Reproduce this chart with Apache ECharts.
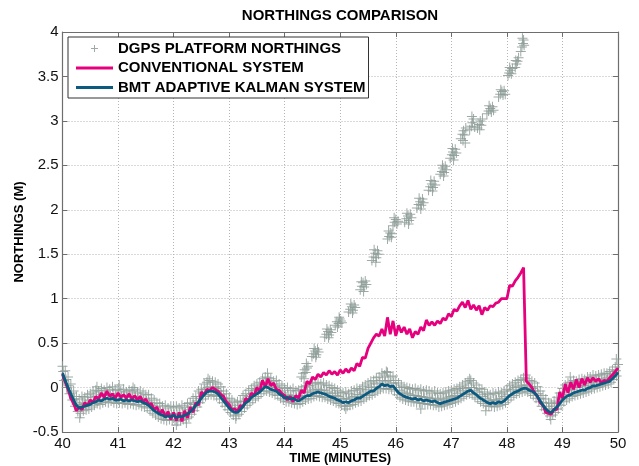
<!DOCTYPE html>
<html>
<head>
<meta charset="utf-8">
<script src="https://cdn.jsdelivr.net/npm/echarts@6/dist/echarts.min.js"></script>
<style>
html,body{margin:0;padding:0;background:#fff;}
#chart{width:639px;height:466px;}
</style>
</head>
<body>
<div id="chart"></div>
<script>
// ---------------- DATA ----------------
const chartTitle = 'NORTHINGS COMPARISON';
const xAxisName = 'TIME (MINUTES)';
const yAxisName = 'NORTHINGS (M)';
const seriesNames = ['DGPS PLATFORM NORTHINGS', 'CONVENTIONAL SYSTEM', 'BMT ADAPTIVE KALMAN SYSTEM'];

// sample grid of the two lines: 40.00 .. 50.00 every 0.05 min
const sampleStart = 40, sampleStep = 0.05;

// BMT adaptive Kalman system (blue)
const bmtValues = [
 0.16,0.08,0.00,-0.07,-0.14,-0.20,-0.23,-0.22,-0.21,-0.20,
 -0.19,-0.17,-0.16,-0.14,-0.15,-0.13,-0.12,-0.13,-0.12,-0.14,
 -0.14,-0.13,-0.15,-0.14,-0.15,-0.14,-0.15,-0.16,-0.15,-0.17,
 -0.18,-0.20,-0.23,-0.26,-0.28,-0.30,-0.31,-0.33,-0.32,-0.33,
 -0.31,-0.34,-0.32,-0.33,-0.31,-0.30,-0.27,-0.24,-0.20,-0.16,
 -0.12,-0.08,-0.05,-0.04,-0.04,-0.05,-0.07,-0.11,-0.15,-0.19,
 -0.23,-0.26,-0.28,-0.28,-0.25,-0.21,-0.17,-0.15,-0.11,-0.09,
 -0.07,-0.05,-0.02,0.01,0.00,-0.02,-0.03,-0.04,-0.07,-0.09,
 -0.12,-0.11,-0.13,-0.12,-0.14,-0.15,-0.13,-0.11,-0.09,-0.09,
 -0.07,-0.06,-0.05,-0.06,-0.07,-0.08,-0.10,-0.11,-0.12,-0.14,
 -0.15,-0.17,-0.16,-0.17,-0.15,-0.14,-0.12,-0.12,-0.10,-0.08,
 -0.06,-0.04,-0.04,-0.01,0.01,0.04,0.02,0.03,0.01,0.02,
 -0.02,-0.06,-0.08,-0.10,-0.11,-0.12,-0.13,-0.12,-0.14,-0.13,
 -0.15,-0.14,-0.15,-0.16,-0.15,-0.17,-0.18,-0.17,-0.16,-0.15,
 -0.14,-0.13,-0.12,-0.10,-0.08,-0.06,-0.04,-0.03,-0.06,-0.08,
 -0.11,-0.13,-0.15,-0.17,-0.18,-0.17,-0.18,-0.16,-0.17,-0.15,
 -0.12,-0.09,-0.07,-0.05,-0.04,-0.02,-0.01,-0.01,-0.03,-0.04,
 -0.06,-0.10,-0.15,-0.20,-0.24,-0.27,-0.28,-0.25,-0.22,-0.18,
 -0.14,-0.11,-0.09,-0.08,-0.06,-0.05,-0.04,-0.03,-0.03,-0.01,
 0.00,0.02,0.02,0.03,0.04,0.05,0.06,0.07,0.10,0.13,0.17
];

// Conventional system (pink)
const conventionalValues = [
 0.15,0.06,-0.02,-0.12,-0.18,-0.26,-0.22,-0.25,-0.17,-0.20,
 -0.14,-0.17,-0.10,-0.13,-0.06,-0.11,-0.04,-0.10,-0.07,-0.12,
 -0.06,-0.11,-0.08,-0.12,-0.07,-0.13,-0.09,-0.14,-0.10,-0.16,
 -0.13,-0.19,-0.18,-0.25,-0.22,-0.30,-0.25,-0.33,-0.27,-0.36,
 -0.28,-0.37,-0.28,-0.38,-0.26,-0.34,-0.22,-0.28,-0.17,-0.20,
 -0.05,-0.08,-0.02,-0.03,0.00,-0.02,-0.04,-0.08,-0.10,-0.16,
 -0.19,-0.25,-0.24,-0.27,-0.20,-0.22,-0.12,-0.15,-0.06,-0.09,
 0.00,-0.04,0.08,0.01,0.10,0.02,0.05,-0.02,-0.03,-0.07,
 -0.09,-0.14,-0.10,-0.16,-0.09,-0.12,-0.03,-0.06,0.07,0.04,
 0.12,0.09,0.15,0.12,0.17,0.14,0.19,0.15,0.18,0.14,
 0.20,0.16,0.21,0.17,0.22,0.19,0.27,0.24,0.34,0.33,
 0.44,0.50,0.56,0.60,0.58,0.66,0.58,0.79,0.60,0.75,
 0.58,0.70,0.62,0.68,0.60,0.66,0.56,0.63,0.60,0.68,
 0.64,0.76,0.70,0.74,0.70,0.75,0.72,0.78,0.76,0.83,
 0.80,0.88,0.86,0.92,0.96,0.90,0.98,0.88,0.93,0.87,
 0.92,0.82,0.90,0.87,0.92,0.91,0.95,0.96,1.00,1.00,
 1.00,1.15,1.14,1.20,1.24,1.29,1.35,0.07,0.04,0.00,
 -0.06,-0.10,-0.17,-0.20,-0.28,-0.29,-0.30,-0.24,-0.25,-0.05,
 -0.12,0.04,-0.06,0.06,-0.02,0.09,0.00,0.10,0.03,0.11,
 0.06,0.11,0.07,0.10,0.05,0.08,0.07,0.11,0.14,0.18,0.22
];

// DGPS band, upper points at 40.000 + 0.05 k
const dgpsUpper = [
 0.24,0.19,0.12,0.04,-0.04,-0.10,-0.13,-0.10,-0.11,-0.08,
 -0.07,-0.05,-0.03,-0.04,-0.01,-0.03,0.00,-0.02,0.01,-0.03,
 -0.02,-0.04,-0.02,-0.05,-0.03,-0.04,-0.02,-0.06,-0.04,-0.06,
 -0.08,-0.08,-0.12,-0.14,-0.17,-0.18,-0.21,-0.20,-0.23,-0.21,
 -0.22,-0.21,-0.23,-0.20,-0.22,-0.18,-0.17,-0.12,-0.10,-0.04,
 -0.02,0.04,0.06,0.08,0.07,0.06,0.04,0.01,-0.04,-0.07,
 -0.12,-0.14,-0.17,-0.16,-0.15,-0.09,-0.07,-0.03,-0.01,0.02,
 0.04,0.06,0.10,0.12,0.11,0.10,0.07,0.08,0.04,0.02,
 -0.01,0.00,-0.03,-0.01,-0.04,-0.03,-0.02,0.01,0.02,0.02,
 0.04,0.05,0.06,0.04,0.05,0.03,0.02,0.00,-0.01,-0.03,
 -0.05,-0.06,-0.05,-0.07,-0.04,-0.03,-0.01,-0.02,0.01,0.03,
 0.05,0.07,0.08,0.11,0.12,0.16,0.14,0.17,0.12,0.13,
 0.08,0.05,0.03,0.01,0.00,-0.01,-0.02,-0.01,-0.03,-0.02,
 -0.04,-0.03,-0.04,-0.06,-0.04,-0.06,-0.07,-0.06,-0.05,-0.04,
 -0.03,-0.02,-0.01,0.01,0.03,0.05,0.07,0.08,0.05,0.03,
 -0.01,-0.02,-0.05,-0.07,-0.08,-0.06,-0.07,-0.05,-0.06,-0.04,
 -0.02,0.02,0.04,0.06,0.08,0.09,0.11,0.10,0.08,0.07,
 0.05,0.01,-0.04,-0.09,-0.13,-0.17,-0.18,-0.15,-0.11,-0.06,
 -0.01,0.03,0.05,0.06,0.08,0.07,0.09,0.10,0.09,0.12,
 0.12,0.14,0.13,0.14,0.15,0.16,0.16,0.18,0.20,0.23,0.26
];
// DGPS band, lower points at 40.025 + 0.05 k
const dgpsLower = [
 0.08,0.00,-0.07,-0.14,-0.21,-0.27,-0.29,-0.26,-0.25,-0.24,
 -0.22,-0.20,-0.18,-0.19,-0.17,-0.16,-0.17,-0.15,-0.17,-0.18,
 -0.17,-0.18,-0.17,-0.19,-0.18,-0.19,-0.20,-0.19,-0.21,-0.22,
 -0.23,-0.26,-0.29,-0.31,-0.33,-0.35,-0.36,-0.37,-0.36,-0.37,
 -0.37,-0.38,-0.37,-0.36,-0.35,-0.33,-0.30,-0.26,-0.22,-0.17,
 -0.13,-0.10,-0.08,-0.08,-0.09,-0.10,-0.13,-0.17,-0.21,-0.25,
 -0.28,-0.31,-0.32,-0.30,-0.27,-0.23,-0.20,-0.17,-0.14,-0.12,
 -0.10,-0.07,-0.04,-0.04,-0.05,-0.06,-0.08,-0.09,-0.12,-0.14,
 -0.16,-0.16,-0.17,-0.18,-0.19,-0.18,-0.16,-0.14,-0.13,-0.12,
 -0.10,-0.09,-0.10,-0.11,-0.11,-0.13,-0.14,-0.15,-0.17,-0.18,
 -0.20,-0.21,-0.21,-0.20,-0.19,-0.17,-0.16,-0.15,-0.13,-0.11,
 -0.09,-0.08,-0.06,-0.04,-0.02,-0.01,-0.01,-0.02,-0.02,-0.04,
 -0.08,-0.11,-0.13,-0.14,-0.15,-0.16,-0.16,-0.17,-0.17,-0.18,
 -0.18,-0.19,-0.19,-0.20,-0.20,-0.22,-0.21,-0.20,-0.19,-0.18,
 -0.17,-0.16,-0.14,-0.12,-0.10,-0.08,-0.07,-0.08,-0.11,-0.13,
 -0.16,-0.18,-0.20,-0.21,-0.21,-0.22,-0.21,-0.20,-0.19,-0.17,
 -0.14,-0.11,-0.09,-0.07,-0.06,-0.05,-0.04,-0.05,-0.07,-0.09,
 -0.12,-0.16,-0.21,-0.25,-0.29,-0.32,-0.31,-0.28,-0.24,-0.20,
 -0.16,-0.14,-0.12,-0.10,-0.09,-0.08,-0.07,-0.06,-0.05,-0.04,
 -0.02,-0.01,0.00,0.01,0.02,0.03,0.04,0.06,0.09,0.13
];
// DGPS band, middle points at 40.0125 + 0.05 k
const dgpsMiddle = [
 0.18,0.09,0.02,-0.06,-0.13,-0.19,-0.20,-0.17,-0.18,-0.15,
 -0.14,-0.11,-0.10,-0.10,-0.08,-0.09,-0.07,-0.09,-0.07,-0.10,
 -0.09,-0.10,-0.09,-0.11,-0.10,-0.11,-0.10,-0.13,-0.12,-0.14,
 -0.15,-0.17,-0.20,-0.23,-0.25,-0.27,-0.28,-0.30,-0.29,-0.30,
 -0.30,-0.30,-0.29,-0.28,-0.28,-0.25,-0.22,-0.19,-0.15,-0.10,
 -0.06,-0.02,0.00,0.01,0.00,-0.01,-0.04,-0.08,-0.12,-0.16,
 -0.20,-0.23,-0.24,-0.23,-0.20,-0.16,-0.13,-0.10,-0.07,-0.04,
 -0.02,0.01,0.04,0.05,0.04,0.03,0.01,0.00,-0.04,-0.06,
 -0.09,-0.08,-0.10,-0.09,-0.11,-0.10,-0.09,-0.06,-0.05,-0.05,
 -0.03,-0.02,-0.02,-0.03,-0.03,-0.05,-0.06,-0.07,-0.09,-0.10,
 -0.12,-0.13,-0.13,-0.13,-0.11,-0.10,-0.08,-0.08,-0.06,-0.04,
 -0.02,0.00,0.01,0.04,0.05,0.08,0.07,0.08,0.05,0.05,
 0.00,-0.03,-0.05,-0.06,-0.07,-0.08,-0.09,-0.09,-0.10,-0.10,
 -0.11,-0.11,-0.12,-0.13,-0.12,-0.14,-0.14,-0.13,-0.12,-0.11,
 -0.10,-0.09,-0.07,-0.05,-0.03,-0.01,0.00,0.00,-0.03,-0.05,
 -0.08,-0.10,-0.12,-0.14,-0.15,-0.14,-0.14,-0.13,-0.12,-0.10,
 -0.08,-0.04,-0.02,0.00,0.01,0.02,0.03,0.03,0.01,-0.01,
 -0.04,-0.07,-0.12,-0.17,-0.21,-0.24,-0.24,-0.21,-0.17,-0.13,
 -0.08,-0.05,-0.03,-0.02,0.00,0.00,0.01,0.02,0.02,0.04,
 0.05,0.06,0.07,0.08,0.09,0.10,0.11,0.13,0.15,0.19
];
// DGPS drifting fixes (time, northing)
const dgpsDrift = [
 [44.30,0.12],[44.33,0.16],[44.36,0.20],[44.38,0.17],[44.40,0.22],[44.42,0.24],[44.35,0.10],[44.39,0.27],
 [44.49,0.35],[44.52,0.38],[44.55,0.41],[44.57,0.37],[44.59,0.43],[44.53,0.44],[44.56,0.34],[44.61,0.40],
 [44.72,0.57],[44.75,0.60],[44.78,0.63],[44.80,0.59],[44.82,0.65],[44.76,0.66],[44.79,0.56],[44.84,0.62],
 [44.91,0.70],[44.94,0.74],[44.97,0.72],[44.99,0.77],[45.01,0.75],[44.95,0.68],[44.98,0.79],[45.03,0.73],
 [45.15,0.85],[45.18,0.88],[45.21,0.91],[45.23,0.87],[45.25,0.93],[45.19,0.94],[45.22,0.84],[45.27,0.90],
 [45.36,1.10],[45.39,1.14],[45.41,1.18],[45.43,1.13],[45.45,1.20],[45.38,1.19],[45.42,1.08],[45.47,1.16],
 [45.57,1.43],[45.60,1.47],[45.63,1.51],[45.65,1.46],[45.67,1.54],[45.61,1.55],[45.64,1.41],[45.69,1.50],
 [45.85,1.67],[45.88,1.70],[45.90,1.74],[45.92,1.69],[45.87,1.76],[45.93,1.73],
 [45.95,1.82],[45.98,1.86],[46.00,1.89],[46.02,1.84],[45.97,1.91],[46.04,1.87],
 [46.16,1.86],[46.19,1.90],[46.22,1.93],[46.24,1.88],[46.26,1.95],[46.20,1.96],[46.23,1.84],[46.28,1.91],
 [46.38,2.02],[46.41,2.06],[46.44,2.09],[46.46,2.05],[46.48,2.12],[46.42,2.13],[46.45,2.01],[46.50,2.08],
 [46.59,2.22],[46.62,2.26],[46.65,2.29],[46.67,2.25],[46.69,2.32],[46.63,2.33],[46.66,2.21],[46.71,2.28],
 [46.80,2.40],[46.83,2.43],[46.85,2.47],[46.87,2.42],[46.89,2.49],[46.84,2.50],[46.86,2.38],[46.91,2.45],
 [46.98,2.58],[47.01,2.62],[47.03,2.65],[47.05,2.61],[47.07,2.68],[47.02,2.69],[47.04,2.56],[47.09,2.64],
 [47.17,2.80],[47.20,2.85],[47.22,2.89],[47.24,2.84],[47.26,2.92],[47.21,2.78],[47.25,2.75],
 [47.33,2.90],[47.36,2.94],[47.38,2.98],[47.40,3.02],[47.42,2.93],[47.37,3.05],
 [47.47,2.92],[47.50,2.96],[47.52,3.00],[47.54,2.95],[47.56,3.02],[47.51,2.90],
 [47.64,3.08],[47.67,3.11],[47.70,3.14],[47.72,3.10],[47.74,3.16],[47.68,3.17],[47.76,3.12],
 [47.85,3.27],[47.88,3.30],[47.91,3.33],[47.93,3.29],[47.95,3.34],[47.89,3.35],[47.97,3.30],
 [48.02,3.51],[48.04,3.54],[48.06,3.57],[48.08,3.53],[48.10,3.59],[48.05,3.60],
 [48.15,3.60],[48.17,3.64],[48.19,3.67],[48.21,3.71],[48.16,3.68],
 [48.25,3.78],[48.27,3.83],[48.29,3.87],[48.30,3.91],[48.31,3.85],[48.28,3.93]
];
// scattered outlying fixes around the band
const dgpsOutliers = [
 [40.31,-0.34],[40.62,0.01],[41.02,0.03],[41.27,0.00],[42.05,-0.42],[42.23,-0.40],
 [42.62,0.10],[43.12,-0.35],[43.69,0.16],[45.10,-0.24],[45.83,0.18],[46.45,-0.24],
 [47.33,0.10],[47.62,-0.26],[48.34,0.14],[48.79,-0.36],[49.14,0.12],[49.97,0.32]
];

const xTicks = {min: 40, max: 50, step: 1};
const yTicks = {min: -0.5, max: 4, step: 0.5};

// ---------------- BUILD ----------------
function at(k, offset) { return +(sampleStart + offset + k * sampleStep).toFixed(4); }
const bmtData = bmtValues.map((v, k) => [at(k, 0), v]);
const convData = conventionalValues.map((v, k) => [at(k, 0), v]);
const dgpsData = []
  .concat(dgpsUpper.map((v, k) => [at(k, 0), v]))
  .concat(dgpsLower.map((v, k) => [at(k, 0.025), v]))
  .concat(dgpsMiddle.map((v, k) => [at(k, 0.0125), v]))
  .concat(dgpsDrift)
  .concat(dgpsOutliers);

const FONT = '"Liberation Sans", Arial, Helvetica, sans-serif';
const AX = '#6e6e6e';
const PINK = '#e6007e', BLUE = '#0d5a80', GREY = '#8c9b95';
const plusPath = 'path://M10.8,0H13.2V24H10.8Z M0,10.8H24V13.2H0Z';
const legendPlus = 'path://M0,0M37,14M18,3.5H19V10.5H18Z M15,6.5H22V7.5H15Z';
const legendLine = 'path://M0,0M37,14M0,5.5H37V8.5H0Z';

const chart = echarts.init(document.getElementById('chart'), null, {renderer: 'canvas'});
const boxAxis = {
  axisLine: {show: true, onZero: false, lineStyle: {color: AX, width: 1.2}},
  axisTick: {show: true, inside: true, length: 5, lineStyle: {color: AX, width: 1}},
  axisLabel: {show: false},
  splitLine: {show: false}
};
chart.setOption({
  animation: false,
  backgroundColor: '#ffffff',
  textStyle: {fontFamily: FONT},
  graphic: [{
    type: 'text', x: 340, y: 16,
    style: {text: chartTitle, fontFamily: FONT, fontSize: 15, fontWeight: 'bold', fill: '#000',
            align: 'center', verticalAlign: 'middle'}
  }],
  grid: {left: 62.5, right: 21, top: 32, bottom: 34, containLabel: false, outerBoundsMode: 'none'},
  legend: {
    orient: 'vertical', left: 68, top: 37,
    backgroundColor: '#fff', borderColor: '#333', borderWidth: 1,
    padding: [4, 3, 3, 8], itemGap: 4.5, itemWidth: 37, itemHeight: 14,
    textStyle: {fontFamily: FONT, fontSize: 15, fontWeight: 'bold', color: '#000'},
    data: [
      {name: seriesNames[0], icon: legendPlus},
      {name: seriesNames[1], icon: legendLine},
      {name: seriesNames[2], icon: legendLine}
    ]
  },
  xAxis: [{
    type: 'value', min: xTicks.min, max: xTicks.max, interval: xTicks.step, position: 'bottom',
    name: xAxisName, nameLocation: 'middle', nameGap: 20, nameMoveOverlap: false,
    nameTextStyle: {fontFamily: FONT, fontSize: 13, fontWeight: 'bold', color: '#000'},
    axisLine: {show: true, onZero: false, lineStyle: {color: AX, width: 1.2}},
    axisTick: {show: true, inside: true, length: 5, lineStyle: {color: AX}},
    axisLabel: {fontFamily: FONT, fontSize: 15, color: '#111', margin: 4},
    splitLine: {show: true, lineStyle: {color: '#b5b5b5', width: 1, type: [1, 2]}}
  }, Object.assign({}, boxAxis, {type: 'value', min: xTicks.min, max: xTicks.max, interval: xTicks.step, position: 'top'})],
  yAxis: [{
    type: 'value', min: yTicks.min, max: yTicks.max, interval: yTicks.step, position: 'left',
    name: yAxisName, nameLocation: 'middle', nameGap: 37, nameMoveOverlap: false,
    nameTextStyle: {fontFamily: FONT, fontSize: 13, fontWeight: 'bold', color: '#000'},
    axisLine: {show: true, onZero: false, lineStyle: {color: AX, width: 1.2}},
    axisTick: {show: true, inside: true, length: 5, lineStyle: {color: AX}},
    axisLabel: {fontFamily: FONT, fontSize: 15, color: '#111', margin: 4},
    splitLine: {show: true, lineStyle: {color: '#b5b5b5', width: 1, type: [1, 2]}}
  }, Object.assign({}, boxAxis, {type: 'value', min: yTicks.min, max: yTicks.max, interval: yTicks.step, position: 'right'})],
  series: [{
    name: seriesNames[0], type: 'scatter', xAxisIndex: 0, yAxisIndex: 0,
    symbol: plusPath, symbolSize: 10, data: dgpsData,
    itemStyle: {color: GREY, opacity: 0.85}, z: 1
  }, {
    name: seriesNames[1], type: 'line', xAxisIndex: 0, yAxisIndex: 0,
    symbol: 'none', showSymbol: false, data: convData,
    lineStyle: {color: PINK, width: 2.8}, itemStyle: {color: PINK}, z: 2
  }, {
    name: seriesNames[2], type: 'line', xAxisIndex: 0, yAxisIndex: 0,
    symbol: 'none', showSymbol: false, data: bmtData,
    lineStyle: {color: BLUE, width: 2.8}, itemStyle: {color: BLUE}, z: 3
  }]
});
</script>
</body>
</html>
